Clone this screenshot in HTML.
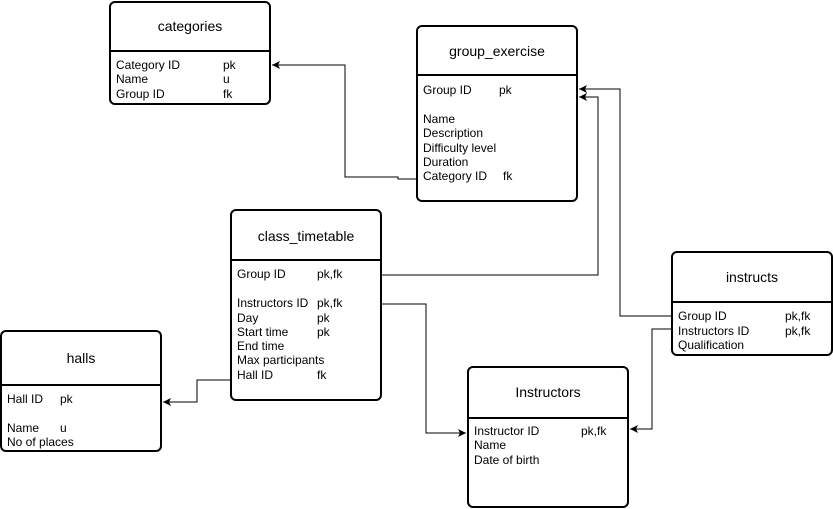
<!DOCTYPE html>
<html><head><meta charset="utf-8"><style>
html,body{margin:0;padding:0;background:#fff;width:833px;height:509px;overflow:hidden}
svg text{font-family:"Liberation Sans",Arial,sans-serif;font-size:12px;fill:#000}
</style></head><body>
<svg width="833" height="509" xmlns="http://www.w3.org/2000/svg">
<defs><marker id="a" markerWidth="10" markerHeight="10" refX="8" refY="5" orient="auto" markerUnits="userSpaceOnUse"><path d="M0,1 L8,5 L0,9 L2,5 Z" fill="#000"/></marker></defs>
<g fill="#fff" stroke="#000" stroke-width="2">
<rect x="110" y="2" width="160" height="102" rx="5"/><line x1="110" y1="51" x2="270" y2="51"/>
<rect x="417" y="26" width="160" height="175" rx="5"/><line x1="417" y1="75" x2="577" y2="75"/>
<rect x="231" y="210" width="150" height="190" rx="5"/><line x1="231" y1="260" x2="381" y2="260"/>
<rect x="1" y="331" width="160" height="120" rx="5"/><line x1="1" y1="385" x2="161" y2="385"/>
<rect x="672" y="252" width="160" height="103" rx="5"/><line x1="672" y1="302" x2="832" y2="302"/>
<rect x="468" y="367" width="160" height="140" rx="5"/><line x1="468" y1="418" x2="628" y2="418"/>
</g>
<g fill="none" stroke="#000" stroke-width="1">
<polyline points="417,179 398,179 398,177 345,177 345,65 272,65" marker-end="url(#a)"/>
<polyline points="381,275 598,275 598,97 579,97" marker-end="url(#a)"/>
<polyline points="672,316 620,316 620,89 579,89" marker-end="url(#a)"/>
<polyline points="231,380 197,380 197,402 163,402" marker-end="url(#a)"/>
<polyline points="381,304 426,304 426,433 466,433" marker-end="url(#a)"/>
<polyline points="672,329 652,329 652,429 630,429" marker-end="url(#a)"/>
</g>
<g>
<text x="190" y="31" text-anchor="middle" style="font-size:14px">categories</text>
<text x="116" y="69">Category ID</text><text x="223" y="69">pk</text>
<text x="116" y="83">Name</text><text x="223" y="83">u</text>
<text x="116" y="98">Group ID</text><text x="223" y="98">fk</text>

<text x="497" y="56" text-anchor="middle" style="font-size:14px">group_exercise</text>
<text x="423" y="94">Group ID</text><text x="499" y="94">pk</text>
<text x="423" y="123">Name</text>
<text x="423" y="137">Description</text>
<text x="423" y="152">Difficulty level</text>
<text x="423" y="166">Duration</text>
<text x="423" y="180">Category ID</text><text x="503" y="180">fk</text>

<text x="306" y="241" text-anchor="middle" style="font-size:14px">class_timetable</text>
<text x="237" y="278">Group ID</text><text x="317" y="278">pk,fk</text>
<text x="237" y="307">Instructors ID</text><text x="317" y="307">pk,fk</text>
<text x="237" y="322">Day</text><text x="317" y="322">pk</text>
<text x="237" y="336">Start time</text><text x="317" y="336">pk</text>
<text x="237" y="350">End time</text>
<text x="237" y="364">Max participants</text>
<text x="237" y="379">Hall ID</text><text x="317" y="379">fk</text>

<text x="81" y="363" text-anchor="middle" style="font-size:14px">halls</text>
<text x="7" y="403">Hall ID</text><text x="60" y="403">pk</text>
<text x="7" y="432">Name</text><text x="60" y="432">u</text>
<text x="7" y="446">No of places</text>

<text x="752" y="282" text-anchor="middle" style="font-size:14px">instructs</text>
<text x="678" y="320">Group ID</text><text x="785" y="320">pk,fk</text>
<text x="678" y="335">Instructors ID</text><text x="785" y="335">pk,fk</text>
<text x="678" y="349">Qualification</text>

<text x="548" y="397" text-anchor="middle" style="font-size:14px">Instructors</text>
<text x="474" y="435">Instructor ID</text><text x="581" y="435">pk,fk</text>
<text x="474" y="449">Name</text>
<text x="474" y="464">Date of birth</text>
</g>
</svg>
</body></html>
